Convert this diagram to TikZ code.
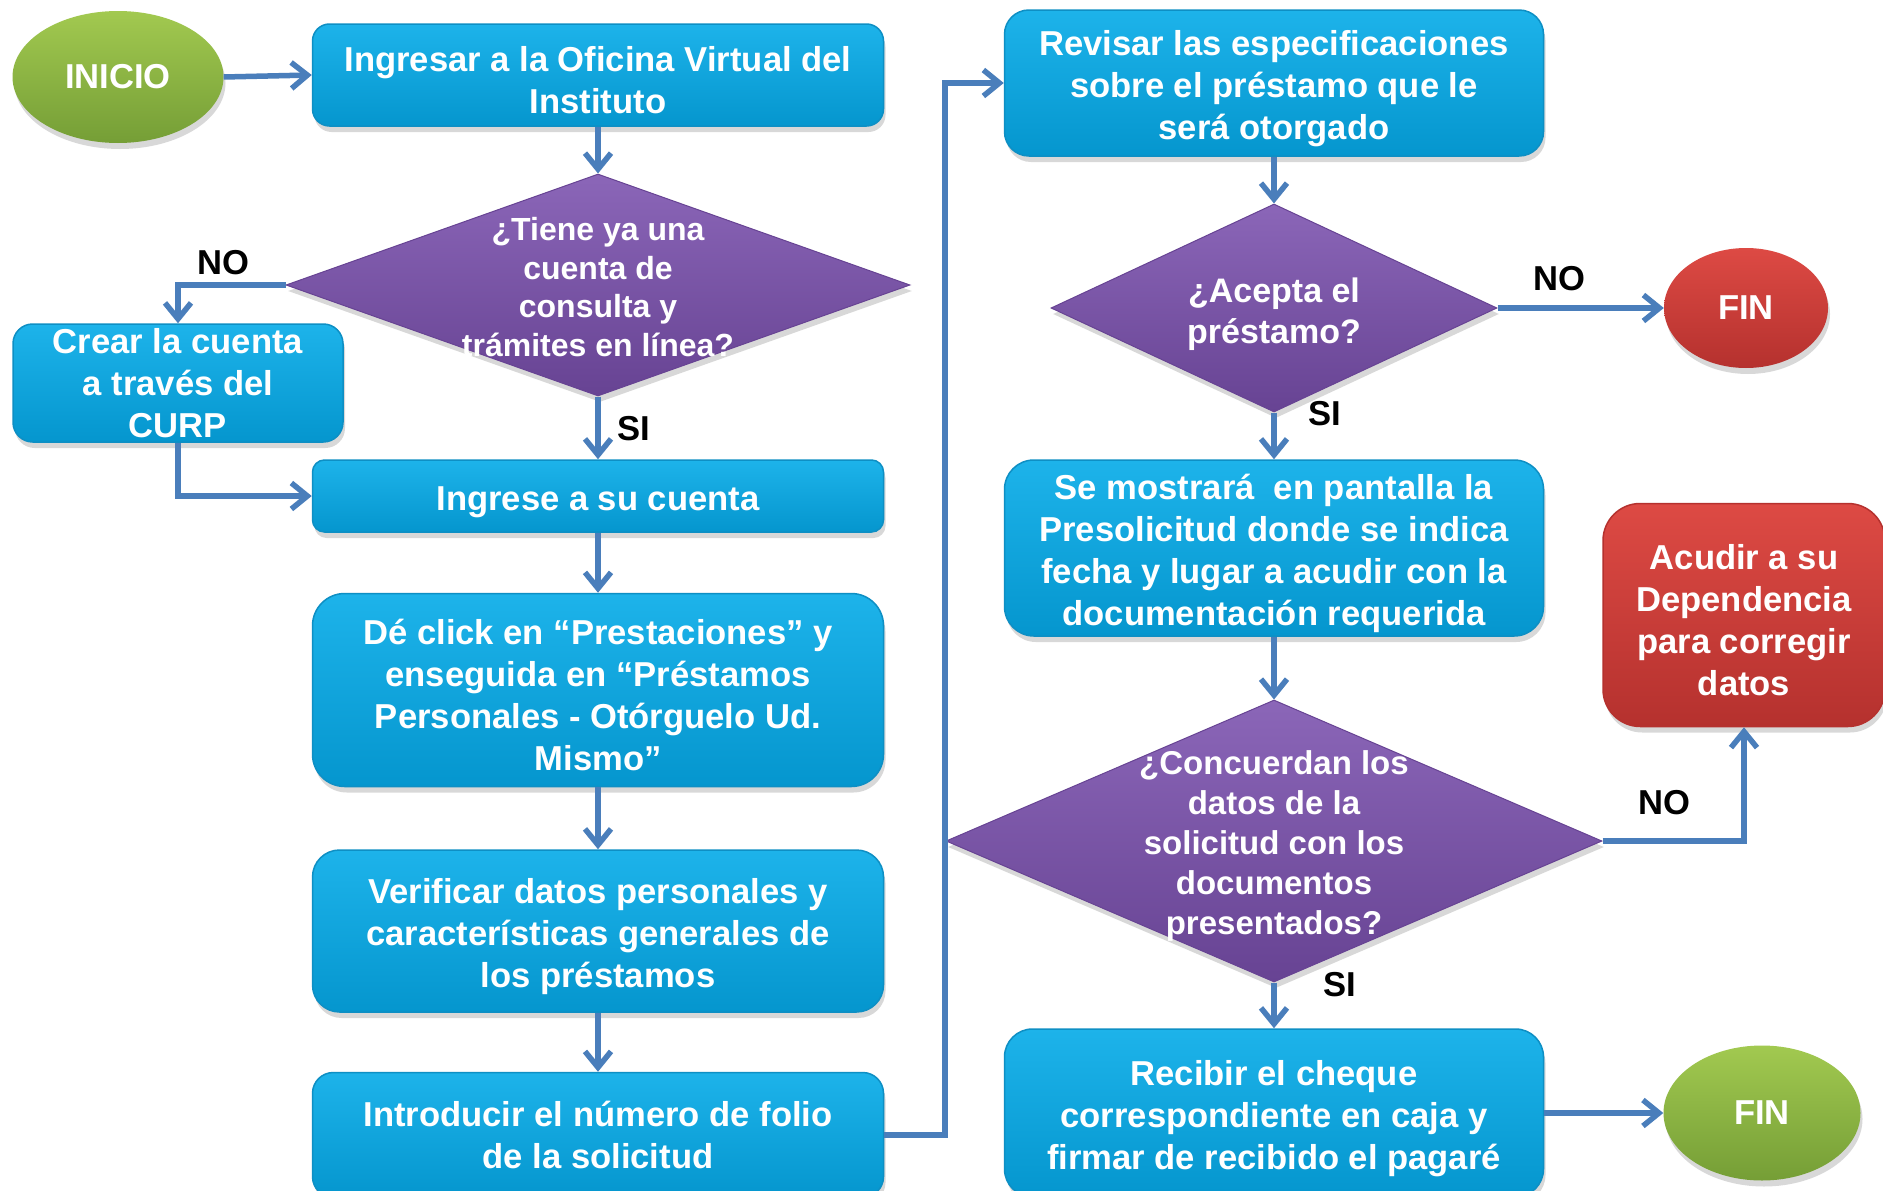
\documentclass[tikz,border=0pt]{standalone}
\usepackage{fontspec}
\setmainfont{Liberation Sans}
\usetikzlibrary{shapes.geometric,arrows.meta,shadows}

\definecolor{cajaarriba}{HTML}{1DB3EA}
\definecolor{cajaabajo}{HTML}{0596CE}
\definecolor{cajaborde}{HTML}{0E8FC4}
\definecolor{lilaarriba}{HTML}{8B66B8}
\definecolor{lilaabajo}{HTML}{674393}
\definecolor{verdearriba}{HTML}{A2C950}
\definecolor{verdeabajo}{HTML}{759E36}
\definecolor{rojoarriba}{HTML}{DD4A44}
\definecolor{rojoabajo}{HTML}{B5312E}
\definecolor{flechaazul}{HTML}{4A7EBB}

% taller first line, so the text sits a bit lower in its box
\newcommand{\subir}{\rule{0pt}{36pt}}

\begin{document}
\begin{tikzpicture}[x=1pt, y=-1pt,
    texto/.style={text=white, font=\bfseries\fontsize{34.6}{42}\selectfont, align=center},
    sombra/.style={drop shadow={shadow xshift=2pt, shadow yshift=-6pt, opacity=.3}},
    paso/.style={texto, rectangle, minimum height=#1pt, rounded corners=#1pt/6, inner sep=0pt,
        draw=cajaborde, line width=1.5pt, top color=cajaarriba, bottom color=cajaabajo, sombra},
    decision/.style={diamond, inner sep=0pt, draw=lilaabajo, line width=1pt,
        top color=lilaarriba, bottom color=lilaabajo, sombra},
    terminal/.style={texto, ellipse, inner sep=0pt, sombra},
    etiqueta/.style={font=\bfseries\fontsize{34.6}{42}\selectfont, text=black},
    flecha/.style={draw=flechaazul, line width=5.5pt, -{Straight Barb[length=16pt, width=26pt]}}]

        % page
        \useasboundingbox (0,0) rectangle (1883,1191);
        \fill[white] (0,0) rectangle (1883,1191);

        % left column
        \node[terminal, top color=verdearriba, bottom color=verdeabajo, minimum width=211pt, minimum height=132pt] (inicio) at (118,77) {INICIO};
        \node[paso=102, minimum width=571pt] (oficina) at (598,75) {\subir Ingresar a la Oficina Virtual del\\Instituto};
        \node[decision, minimum width=624pt, minimum height=222pt] (cuenta) at (598,285) {};
        \node[texto, font=\bfseries\fontsize{32}{38.4}\selectfont] (cuentatxt) at (598,287) {¿Tiene ya una\\cuenta de\\consulta y\\trámites en línea?};
        \node[paso=118, minimum width=330pt] (crear) at (178,383) {Crear la cuenta\\a través del\\CURP};
        \node[paso=72, minimum width=571pt] (ingrese) at (598,496) {\subir Ingrese a su cuenta};
        \node[paso=193, minimum width=571pt] (click) at (598,690) {\subir Dé click en “Prestaciones” y\\enseguida en “Préstamos\\Personales - Otórguelo Ud.\\Mismo”};
        \node[paso=162, minimum width=571pt] (verificar) at (598,931) {\subir Verificar datos personales y\\características generales de\\los préstamos};
        \node[paso=125, minimum width=571pt] (folio) at (598,1135) {Introducir el número de folio\\de la solicitud};

        % right column
        \node[paso=146, minimum width=539pt] (revisar) at (1274,83) {\subir Revisar las especificaciones\\sobre el préstamo que le\\será otorgado};
        \node[decision, minimum width=446pt, minimum height=208pt] (acepta) at (1274,308) {};
        \node[texto, font=\bfseries\fontsize{34}{41}\selectfont] (aceptatxt) at (1274,314) {¿Acepta el\\préstamo?};
        \node[terminal, top color=rojoarriba, bottom color=rojoabajo, minimum width=164pt, minimum height=120pt] (finno) at (1746,308) {FIN};
        \node[paso=176, minimum width=539pt] (mostrar) at (1274,548) {\subir Se mostrará~ en pantalla la\\Presolicitud donde se indica\\fecha y lugar a acudir con la\\documentación requerida};
        \node[decision, minimum width=656pt, minimum height=282pt] (concuerdan) at (1274,841) {};
        \node[texto, font=\bfseries\fontsize{33}{40}\selectfont] (concuerdantxt) at (1274,846) {¿Concuerdan los\\datos de la\\solicitud con los\\documentos\\presentados?};
        \node[paso=223, draw=rojoabajo, top color=rojoarriba, bottom color=rojoabajo, minimum width=282pt] (acudir) at (1744,615) {\subir Acudir a su\\Dependencia\\para corregir\\datos};
        \node[paso=168, minimum width=539pt] (recibir) at (1274,1113) {\subir Recibir el cheque\\correspondiente en caja y\\firmar de recibido el pagaré};
        \node[terminal, top color=verdearriba, bottom color=verdeabajo, minimum width=197pt, minimum height=135pt] (finsi) at (1762,1113) {FIN};

        % labels
        \node[etiqueta] (no1) at (223,263) {NO};
        \node[etiqueta] (si1) at (634,429) {SI};
        \node[etiqueta] (no2) at (1559,279) {NO};
        \node[etiqueta] (si2) at (1325,414) {SI};
        \node[etiqueta] (no3) at (1664,803) {NO};
        \node[etiqueta] (si3) at (1340,985) {SI};

        %% connection
        \draw[flecha] (inicio.east) -- (oficina.west);
        \foreach \a/\b in {oficina/cuenta, cuenta/ingrese, ingrese/click, click/verificar, verificar/folio,
                revisar/acepta, acepta/mostrar, mostrar/concuerdan, concuerdan/recibir} {
            \draw[flecha] (\a.south) -- (\b.north);
        }
        \draw[flecha] (cuenta.west) -| (crear.north);
        \draw[flecha] (crear.south) |- (ingrese.west);
        % jump to the right column
        \coordinate (codo) at (945,600);
        \draw[flecha] (folio.east) -| (codo) |- (revisar.west);
        \draw[flecha] (acepta.east) -- (finno.west);
        \draw[flecha] (concuerdan.east) -| (acudir.south);
        \draw[flecha] (recibir.east) -- (finsi.west);
    \end{tikzpicture}
\end{document}
